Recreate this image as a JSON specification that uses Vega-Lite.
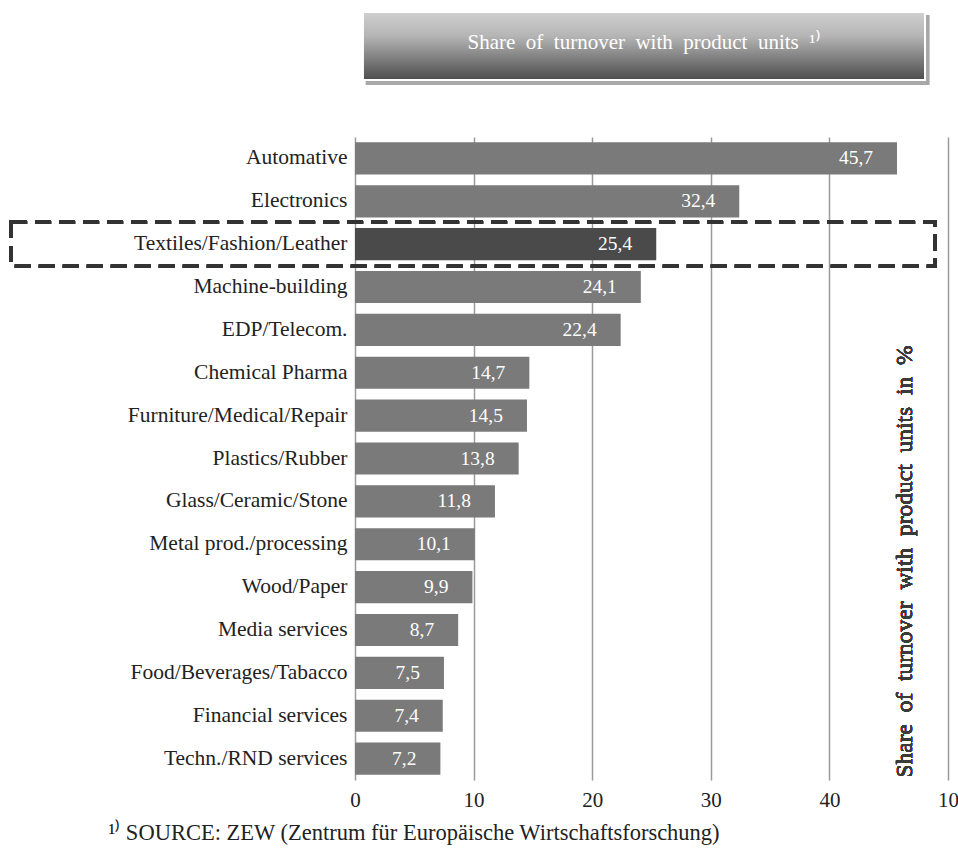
{
  "$schema": "https://vega.github.io/schema/vega-lite/v6.json",
  "autosize": {"type": "none"},
  "width": 593,
  "height": 643,
  "padding": {"left": 355, "top": 137, "right": 10, "bottom": 70},
  "background": "white",
  "config": {
    "view": {"stroke": null},
    "font": "Liberation Serif",
    "locale": {"number": {"decimal": ",", "thousands": ".", "grouping": [3], "currency": ["", " €"]}}
  },
  "datasets": {
    "sectors": [
      {"sector": "Automative", "share": 45.7},
      {"sector": "Electronics", "share": 32.4},
      {"sector": "Textiles/Fashion/Leather", "share": 25.4},
      {"sector": "Machine-building", "share": 24.1},
      {"sector": "EDP/Telecom.", "share": 22.4},
      {"sector": "Chemical  Pharma", "share": 14.7},
      {"sector": "Furniture/Medical/Repair", "share": 14.5},
      {"sector": "Plastics/Rubber", "share": 13.8},
      {"sector": "Glass/Ceramic/Stone", "share": 11.8},
      {"sector": "Metal prod./processing", "share": 10.1},
      {"sector": "Wood/Paper", "share": 9.9},
      {"sector": "Media services", "share": 8.7},
      {"sector": "Food/Beverages/Tabacco", "share": 7.5},
      {"sector": "Financial services", "share": 7.4},
      {"sector": "Techn./RND services", "share": 7.2}
    ],
    "header": [{"title": "Share\u2002of\u2002turnover\u2002with\u2002product\u2002units\u2002¹⁾"}]
  },
  "layer": [
    {
      "data": {"name": "sectors"},
      "layer": [
        {
          "mark": {"type": "bar"},
          "encoding": {
            "y": {
              "field": "sector", "type": "nominal", "sort": null,
              "scale": {"paddingInner": 0.25, "paddingOuter": 0.125},
              "axis": {"title": null, "domain": false, "ticks": false, "labelFontSize": 21.5, "labelPadding": 8, "labelColor": "#222", "labelLimit": 400}
            },
            "x": {
              "field": "share", "type": "quantitative",
              "scale": {"domain": [0, 50], "nice": false},
              "axis": {
                "values": [0, 10, 20, 30, 40, 50],
                "grid": true, "gridColor": "#9a9a9a", "gridWidth": 1.5,
                "domain": false, "ticks": false,
                "labelFontSize": 21, "labelPadding": 9, "labelColor": "#222", "labelFlush": false,
                "labelExpr": "datum.value == 50 ? '10' : datum.label",
                "title": "¹⁾ SOURCE: ZEW (Zentrum für Europäische Wirtschaftsforschung)",
                "titleX": -247, "titleY": 52, "titleAlign": "left", "titleBaseline": "middle",
                "titleFontSize": 22.5, "titleFontWeight": "normal", "titleColor": "#222"
              }
            },
            "color": {
              "condition": {"test": "datum.sector === 'Textiles/Fashion/Leather'", "value": "#4a4a4a"},
              "value": "#7a7a7a"
            }
          }
        },
        {
          "mark": {"type": "text", "align": "right", "baseline": "middle", "dx": -24, "color": "white", "fontSize": 19.5},
          "encoding": {
            "y": {"field": "sector", "type": "nominal", "sort": null},
            "x": {"field": "share", "type": "quantitative"},
            "text": {"field": "share", "type": "quantitative", "format": ".1f"}
          }
        },
        {
          "mark": {"type": "bar", "fill": "transparent", "stroke": "#333", "strokeWidth": 3.5, "strokeDash": [16, 8], "height": {"band": 1.37}},
          "encoding": {
            "y": {"datum": "Textiles/Fashion/Leather", "type": "nominal"},
            "x": {"datum": -29},
            "x2": {"datum": 48.9}
          }
        },
        {
          "mark": {"type": "text", "angle": 270, "align": "left", "baseline": "middle", "dx": -19, "fontSize": 23.5, "fontWeight": "normal", "color": "#3a3a3a"},
          "encoding": {
            "y": {"datum": "Techn./RND services", "type": "nominal"},
            "x": {"datum": 46.4},
            "text": {"value": "Share\u2002of\u2002turnover\u2002with\u2002product\u2002units\u2002in\u2002%"}
          }
        }
      ]
    },
    {
      "data": {"name": "header"},
      "layer": [
        {
          "mark": {"type": "rect", "color": "#a8a8a8"},
          "encoding": {
            "x": {"datum": 0.9},
            "x2": {"datum": 48.45},
            "y": {"datum": 765, "type": "quantitative", "scale": {"domain": [0, 643], "nice": false, "zero": false}, "axis": null},
            "y2": {"datum": 695}
          }
        },
        {
          "mark": {
            "type": "rect",
            "fill": {"gradient": "linear", "x1": 0, "y1": 0, "x2": 0, "y2": 1,
              "stops": [{"offset": 0, "color": "#d0d0d0"}, {"offset": 0.35, "color": "#b5b5b5"}, {"offset": 1, "color": "#4c4c4c"}]},
            "stroke": "white", "strokeWidth": 2
          },
          "encoding": {
            "x": {"datum": 0.67},
            "x2": {"datum": 48.06},
            "y": {"datum": 768, "type": "quantitative", "scale": {"domain": [0, 643], "nice": false, "zero": false}, "axis": null},
            "y2": {"datum": 700}
          }
        },
        {
          "mark": {"type": "text", "align": "center", "baseline": "middle", "color": "white", "fontSize": 21},
          "encoding": {
            "x": {"datum": 24.37},
            "y": {"datum": 737, "type": "quantitative", "scale": {"domain": [0, 643], "nice": false, "zero": false}, "axis": null},
            "text": {"field": "title"}
          }
        }
      ]
    }
  ],
  "resolve": {"scale": {"y": "independent"}}
}
